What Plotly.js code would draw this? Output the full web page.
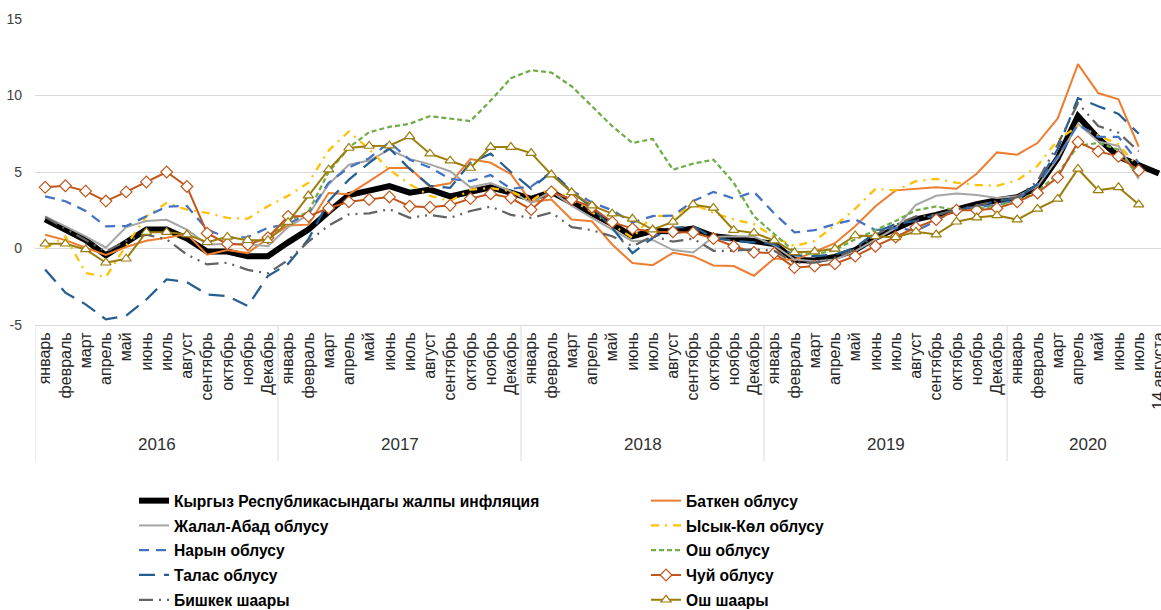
<!DOCTYPE html>
<html>
<head>
<meta charset="utf-8">
<script src="https://cdn.plot.ly/plotly-3.0.1.min.js"></script>
<style>
html,body{margin:0;padding:0;overflow:hidden;background:#fff;}
#chart{width:1161px;height:610px;}
</style>
</head>
<body>
<div id="chart"></div>
<script>
// ---------- data ----------
const years = ['2016', '2017', '2018', '2019', '2020'];
const monthsPerYear = [12, 12, 12, 12, 8];
const monthLabels = [
  'январь','февраль','март','апрель','май','июнь','июль','август','сентябрь','октябрь','ноябрь','Декабрь',
  'январь','февраль','март','апрель','май','июнь','июль','август','сентябрь','октябрь','ноябрь','Декабрь',
  'январь','февраль','март','апрель','май','июнь','июль','август','сентябрь','октябрь','ноябрь','Декабрь',
  'январь','февраль','март','апрель','май','июнь','июль','август','сентябрь','октябрь','ноябрь','Декабрь',
  'январь','февраль','март','апрель','май','июнь','июль','14 августа'
];
const yTickValues = [-5, 0, 5, 10, 15];
const yTickLabels = ['-5', '0', '5', '10', '15'];

const seriesNames = [
  'Кыргыз Республикасындагы жалпы инфляция', 'Баткен облусу',
  'Жалал-Абад облусу', 'Ысык-Көл облусу',
  'Нарын облусу', 'Ош облусу',
  'Талас облусу', 'Чуй облусу',
  'Бишкек шаары', 'Ош шаары'
];

const total = [
  1.9, 1.25, 0.55, -0.45, 0.45, 1.24, 1.24, 0.65, -0.2, -0.2, -0.5, -0.5,
  0.4, 1.24, 2.4, 3.5, 3.78, 4.08, 3.65, 3.85, 3.41, 3.7, 4.0, 3.65,
  3.24, 3.7, 2.95, 2.3, 1.6, 0.8, 1.15, 1.13, 1.3, 0.8, 0.67, 0.48,
  0.3, -0.75, -0.78, -0.55, -0.1, 0.7, 1.35, 1.9, 2.2, 2.6, 2.9, 3.15,
  3.35, 4.0, 5.9, 8.65, 7.2, 6.0, 5.4, 4.9
];
const batken = [
  0.9, 0.55, 0.05, -0.42, 0.1, 0.5, 0.7, 0.95, -0.4, -0.1, -0.3, 0.65,
  1.5, 1.56, 3.63, 3.55, 4.39, 5.26, 5.26, 4.03, 4.26, 5.85, 5.6, 4.86,
  3.05, 3.2, 1.9, 1.78, 0.26, -0.95, -1.09, -0.28, -0.5, -1.11, -1.15, -1.78,
  -0.65, -0.75, -0.2, 0.35, 1.45, 2.76, 3.8, 3.91, 4.0, 3.91, 4.89, 6.28,
  6.13, 6.89, 8.5, 12.05, 10.16, 9.75, 6.65, null
];
const jalalabad = [
  2.1, 1.45, 0.8, 0.05, 1.4, 1.8, 1.88, 1.24, 0.26, 0.3, 0.3, 0.15,
  1.4, 2.2, 4.2, 5.48, 5.75, 6.47, 5.86, 5.5, 5.05, 4.0, 4.28, 3.74,
  2.98, 3.74, 2.8, 2.0, 1.25, 0.48, 0.56, -0.1, -0.26, 0.75, 0.8, 0.78,
  0.2, -0.72, -0.83, -0.72, -0.17, 0.59, 1.35, 2.85, 3.45, 3.6, 3.5, 3.3,
  3.41, 4.07, 5.9, 8.15, 7.0, 6.7, 4.55, null
];
const issykkul = [
  0.0, 0.8, -1.6, -1.87, 0.2, 2.1, 2.98, 2.54, 2.33, 2.0, 1.95, 2.76,
  3.45, 4.3, 6.4, 7.65, 6.5, 5.15, 4.2, 3.45, 3.1, 3.85, 3.95, 3.75,
  3.1, 4.0, 3.2, 2.4, 1.55, 0.7, 2.15, 2.1, 2.9, 2.33, 1.9, 1.6,
  0.75, 0.15, 0.5, 1.5, 2.6, 3.9, 3.8, 4.4, 4.55, 4.3, 4.15, 4.1,
  4.45, 5.4, 7.1, 8.0, 7.4, 6.8, 5.3, null
];
const naryn = [
  3.41, 3.09, 2.46, 1.45, 1.47, 2.12, 2.74, 2.78, 1.24, 0.7, 0.75, 1.35,
  1.6, 2.3, 4.3, 5.3, 5.9, 6.95, 5.8, 5.3, 4.55, 4.4, 4.8, 3.9,
  4.05, 5.0, 3.8, 3.0, 2.5, 1.7, 2.12, 2.15, 3.1, 3.7, 3.27, 3.7,
  2.3, 1.05, 1.2, 1.6, 1.9, 1.2, 1.35, 1.15, 1.8, 2.6, 2.7, 2.85,
  3.2, 4.2, 6.0, 8.1, 7.3, 7.3, 5.6, null
];
const oshOblast = [
  null, null, null, null, null, null, null, null, null, null, null, 0.8,
  1.8, 2.4, 5.0, 6.6, 7.6, 7.95, 8.15, 8.65, 8.5, 8.33, 9.67, 11.13,
  11.65, 11.5, 10.6, 9.3, 8.0, 6.9, 7.16, 5.15, 5.55, 5.8, 4.3, 2.1,
  0.95, -0.2, -0.4, -0.1, 0.6, 1.2, 1.8, 2.5, 2.75, 2.5, 2.6, 2.8,
  3.15, 3.7, 4.9, 6.7, 6.9, 6.46, 4.7, null
];
const talas = [
  -1.37, -2.89, -3.65, -4.63, -4.39, -3.33, -2.02, -2.2, -3.0, -3.11, -3.76, -1.8,
  -1.0, 0.6, 3.1, 4.5, 5.6, 6.55, 5.2, 4.1, 3.96, 5.6, 6.2, 5.0,
  3.9, 5.0, 3.7, 2.7, 1.35, -0.3, 0.7, 1.35, 1.45, 0.7, 0.5, 0.4,
  0.3, -0.45, -0.5, -0.4, 0.05, 1.05, 1.6, 1.8, 2.2, 2.5, 2.8, 3.1,
  3.3, 4.2, 6.5, 9.83, 9.3, 8.8, 7.5, null
];
const chuy = [
  4.0, 4.1, 3.75, 3.1, 3.7, 4.35, 5.0, 4.05, 1.0, 0.3, 0.25, 0.7,
  2.1, 2.1, 2.65, 3.05, 3.2, 3.37, 2.76, 2.7, 2.83, 3.26, 3.57, 3.3,
  2.54, 3.7, 3.2, 2.7, 1.72, 1.3, 1.1, 1.09, 1.04, 0.65, 0.15, -0.25,
  -0.3, -1.25, -1.15, -1.0, -0.5, 0.15, 0.75, 1.37, 1.89, 2.5, 2.5, 2.63,
  3.05, 3.63, 4.65, 6.96, 6.35, 6.02, 5.1, null
];
const bishkek = [
  2.05, 1.3, 0.6, -0.2, 0.5, 0.9, 0.6, -0.4, -1.04, -0.93, -1.4, -1.62,
  -0.75, 0.45, 1.5, 2.23, 2.3, 2.57, 2.0, 2.2, 2.0, 2.45, 2.74, 2.2,
  2.0, 2.35, 1.4, 1.2, 0.8, 0.15, 0.8, 0.45, 0.65, -0.15, -0.15, -0.05,
  -0.15, -0.93, -0.93, -0.6, -0.06, 0.9, 1.55, 2.1, 2.2, 2.54, 2.8, 3.1,
  3.35, 4.4, 6.8, 9.5, 8.0, 7.57, 6.35, null
];
const oshCity = [
  0.31, 0.31, -0.06, -0.93, -0.67, 1.07, 1.07, 0.91, 0.41, 0.76, 0.54, 0.54,
  1.72, 3.46, 5.15, 6.57, 6.7, 6.72, 7.33, 6.2, 5.74, 5.26, 6.63, 6.63,
  6.24, 4.83, 3.67, 2.8, 2.28, 1.94, 1.24, 1.74, 2.87, 2.65, 1.2, 1.02,
  0.52, -0.25, -0.2, -0.02, 0.85, 0.8, 0.73, 1.1, 0.91, 1.75, 2.02, 2.16,
  1.89, 2.59, 3.24, 5.2, 3.8, 4.0, 2.87, null
];

// ---------- build ----------
const xIdx = monthLabels.map((_, i) => i);
const FONT = "'Liberation Sans', Arial, sans-serif";

const styles = [
  {color: '#000000', width: 6, dash: 'solid'},
  {color: '#ED7D31', width: 2, dash: 'solid'},
  {color: '#A5A5A5', width: 2, dash: 'solid'},
  {color: '#FFC000', width: 2.25, dash: '8px,6px,2px,6px'},
  {color: '#4472C4', width: 2.25, dash: '10px,7px'},
  {color: '#70AD47', width: 2.25, dash: '5px,3px'},
  {color: '#255E91', width: 2.25, dash: '16px,9px'},
  {color: '#C0561B', width: 2, dash: 'solid', marker: 'diamond'},
  {color: '#636363', width: 2.25, dash: '14px,6px,2px,6px,2px,6px'},
  {color: '#9C7D0C', width: 2, dash: 'solid', marker: 'triangle-up'}
];
const seriesData = [total, batken, jalalabad, issykkul, naryn, oshOblast, talas, chuy, bishkek, oshCity];

const traces = seriesData.map((ys, k) => {
  const st = styles[k];
  const t = {
    type: 'scatter',
    x: xIdx,
    y: ys,
    name: seriesNames[k],
    mode: st.marker ? 'lines+markers' : 'lines',
    line: {color: st.color, width: st.width, dash: st.dash},
    legend: (k % 2 === 0) ? 'legend' : 'legend2',
    legendgroup: 'g' + k,
    hoverinfo: 'skip'
  };
  if (st.marker) {
    t.marker = {symbol: st.marker, size: 9, color: '#FFFFFF', line: {color: st.color, width: 1.2}};
  }
  return t;
});

// year group separators and labels
const shapes = [];
const annotations = [];
let start = 0;
years.forEach((yr, g) => {
  shapes.push({type: 'line', xref: 'x', yref: 'paper', x0: start - 0.5, x1: start - 0.5, y0: 0, y1: -0.445,
    line: {color: '#D9D9D9', width: 1}});
  const end = start + monthsPerYear[g] - 1;
  annotations.push({xref: 'x', yref: 'paper', x: (start + end) / 2, y: -0.39, yanchor: 'middle',
    text: yr, showarrow: false, font: {family: FONT, size: 17, color: '#303030'}});
  start += monthsPerYear[g];
});

const legendBase = {
  xref: 'container', yref: 'container', y: 1 - 484 / 610,
  xanchor: 'left', yanchor: 'top', orientation: 'v', tracegroupgap: 1.5,
  bgcolor: 'rgba(0,0,0,0)', borderwidth: 0,
  font: {family: FONT, size: 15.6, color: '#000000', weight: 'bold'}
};

const layout = {
  width: 1161, height: 610,
  margin: {l: 35, r: 0, t: 19, b: 285, autoexpand: false},
  paper_bgcolor: '#FFFFFF', plot_bgcolor: '#FFFFFF',
  showlegend: true,
  font: {family: FONT, color: '#404040'},
  xaxis: {
    range: [-0.5, 55.1], automargin: false,
    tickmode: 'array', tickvals: xIdx, ticktext: monthLabels,
    ticklabeloverflow: 'allow',
    tickangle: -90, showgrid: false, zeroline: false,
    showline: true, linecolor: '#D9D9D9', linewidth: 1,
    ticks: '', tickfont: {family: FONT, size: 16, color: '#262626'}
  },
  yaxis: {
    range: [-5, 15], automargin: false,
    tickmode: 'array', tickvals: yTickValues, ticktext: yTickLabels,
    showgrid: true, gridcolor: '#D9D9D9', gridwidth: 1,
    zeroline: false, showline: false, ticks: '',
    ticklabelstandoff: 12,
    tickfont: {family: FONT, size: 14, color: '#404040'}
  },
  legend: Object.assign({}, legendBase, {x: 134 / 1161}),
  legend2: Object.assign({}, legendBase, {x: 646 / 1161}),
  shapes: shapes,
  annotations: annotations
};

Plotly.newPlot('chart', traces, layout, {displayModeBar: false, staticPlot: true});
</script>
</body>
</html>
